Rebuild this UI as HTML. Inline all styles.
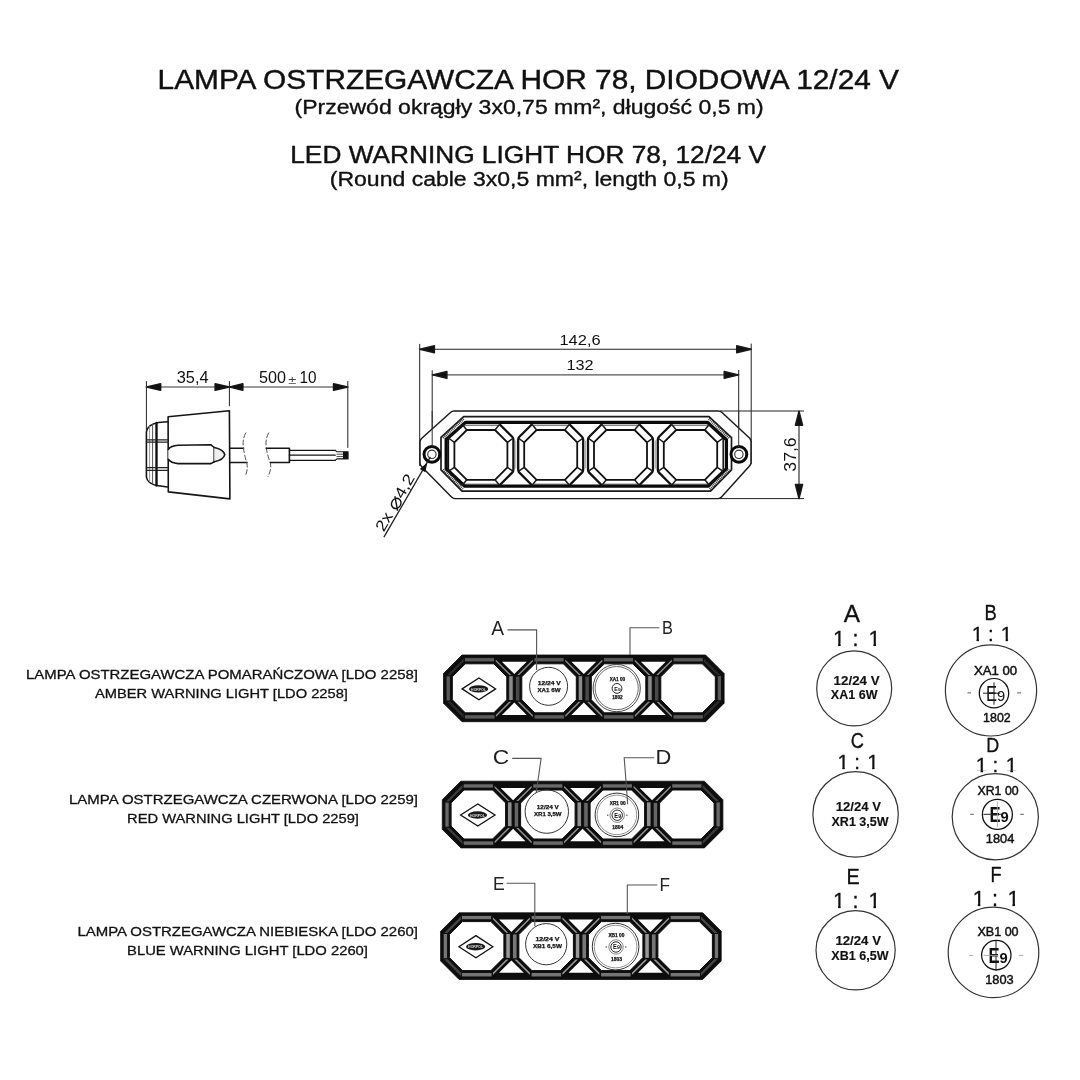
<!DOCTYPE html>
<html lang="pl"><head><meta charset="utf-8"><title>LAMPA OSTRZEGAWCZA HOR 78</title>
<style>html,body{margin:0;padding:0;background:#fff;}body{width:1080px;height:1080px;overflow:hidden;}svg{display:block;will-change:transform;}text{font-family:'Liberation Sans', Arial, sans-serif;}</style>
</head><body>
<svg width="1080" height="1080" viewBox="0 0 1080 1080">
<rect width="1080" height="1080" fill="#fff"/>
<g>
<g id="title">
<text x="157.58" y="89.30" font-size="27.4" font-weight="normal" fill="#111" textLength="741.42" lengthAdjust="spacingAndGlyphs" stroke="#111" stroke-width="0.45" stroke-linejoin="round" >LAMPA OSTRZEGAWCZA HOR 78, DIODOWA 12/24 V</text>
<text x="294.55" y="113.75" font-size="20" font-weight="normal" fill="#111" textLength="469.15" lengthAdjust="spacingAndGlyphs" stroke="#111" stroke-width="0.35" stroke-linejoin="round" >(Przewód okrągły 3x0,75 mm², długość 0,5 m)</text>
<text x="290.28" y="162.50" font-size="24.6" font-weight="normal" fill="#111" textLength="475.72" lengthAdjust="spacingAndGlyphs" stroke="#111" stroke-width="0.45" stroke-linejoin="round" >LED WARNING LIGHT HOR 78, 12/24 V</text>
<text x="329.80" y="186.00" font-size="20" font-weight="normal" fill="#111" textLength="398.90" lengthAdjust="spacingAndGlyphs" stroke="#111" stroke-width="0.35" stroke-linejoin="round" >(Round cable 3x0,5 mm², length 0,5 m)</text>
</g>
<g id="side" fill="none" stroke="#151515" stroke-width="1.6" stroke-linecap="round" stroke-linejoin="round">
<g stroke="#333" stroke-width="1">
<line x1="146.40" y1="381.50" x2="146.40" y2="430.80" stroke="#222" stroke-width="1" />
<line x1="229.40" y1="381.50" x2="229.40" y2="405.80" stroke="#222" stroke-width="1" />
<line x1="347.80" y1="381.50" x2="347.80" y2="447.50" stroke="#222" stroke-width="1" />
<line x1="146.40" y1="387.00" x2="347.80" y2="387.00" stroke="#999" stroke-width="1.8" />
</g>
<polygon points="146.60,387.00 160.60,383.80 160.60,390.20" fill="#111"/>
<polygon points="229.20,387.00 215.20,390.20 215.20,383.80" fill="#111"/>
<polygon points="229.80,387.00 242.80,383.80 242.80,390.20" fill="#111"/>
<polygon points="347.60,387.00 333.60,390.20 333.60,383.80" fill="#111"/>
<path d="M168.1,416.7 L229.4,410.7 L229.9,498.9 L168.3,491.9 Z" fill="#fff"/>
<path d="M167.6,421.8 L158.5,422.5 Q147.2,424.5 146.4,432 L146.4,477 Q147.2,484 158.5,485.7 L167.6,487" />
<path d="M156.5,423 L156.5,485.5" stroke-width="2.4" stroke="#111"/>
<path d="M152.6,424.5 L152.6,484" stroke-width="1" stroke="#555"/>
<path d="M149.6,426.5 L149.6,482" stroke-width="0.9" stroke="#888"/>
<path d="M146.6,439.9 L167.6,439.9 M146.6,442.2 L167.6,442.2 M146.6,467.6 L167.6,467.6 M146.6,470.4 L167.6,470.4" stroke-width="1.25" stroke="#222"/>
<path d="M168.3,449.3 Q171,445.8 178,445.3 L211,444.8 L214.2,447.5 L214.2,461.8 L211,463.6 L178,463.6 Q171,463 168.3,459.3" fill="#fff"/>
<path d="M214.2,447.5 Q223.5,449.5 224.8,454.6 Q223.5,460 214.2,461.8" fill="#eee"/>
<path d="M229.9,448.2 L243.6,448.2 M229.9,462.5 L247,462.5"/>
<path d="M245.7,432.9 Q242.5,439 243.2,446 Q244.2,455 246.8,462.8 Q248.3,470 245,476.7" stroke-dasharray="5 2.5" stroke-width="1" stroke="#555"/>
<path d="M268.6,432.9 Q265.4,439 266.1,446 Q267.1,455 270.4,462.8 Q271.6,470 267.9,476.7" stroke-dasharray="5 2.5" stroke-width="1" stroke="#555"/>
<path d="M266.3,448.2 L289.4,448.2 L289.4,462.5 L270.4,462.5"/>
<path d="M289.4,450.3 L335.3,450.3 M289.4,455.2 L335.3,455.2 M289.4,460.3 L335.3,460.3" stroke-width="1.2"/>
<path d="M335.3,450.3 L337,451.8 L348,451.8 L348,458.9 L337,458.9 L335.3,460.3" stroke-width="1.1"/>
<rect x="343" y="451.8" width="5.2" height="7.1" fill="#111" stroke="none"/>
<path d="M337,454.2 L343,454.2 M337,456.6 L343,456.6" stroke-width="0.8"/>
</g>
<text x="176.76" y="382.90" font-size="16" font-weight="normal" fill="#111" textLength="31.78" lengthAdjust="spacingAndGlyphs"  >35,4</text>
<text x="258.96" y="382.90" font-size="16" font-weight="normal" fill="#111" textLength="26.98" lengthAdjust="spacingAndGlyphs"  >500</text>
<text x="288.27" y="383.60" font-size="11" font-weight="normal" fill="#444" textLength="8.06" lengthAdjust="spacingAndGlyphs"  >±</text>
<text x="299.40" y="382.90" font-size="16" font-weight="normal" fill="#111" textLength="17.04" lengthAdjust="spacingAndGlyphs"  >10</text>
<g id="front" fill="none" stroke="#1a1a1a" stroke-width="1.45" stroke-linejoin="round">
<g stroke="#333" stroke-width="1">
<line x1="419.70" y1="343.90" x2="419.70" y2="466.00" stroke="#222" stroke-width="1" />
<line x1="751.20" y1="343.60" x2="751.20" y2="464.00" stroke="#222" stroke-width="1" />
<line x1="432.20" y1="370.30" x2="432.20" y2="453.60" stroke="#222" stroke-width="1" />
<line x1="738.70" y1="370.00" x2="738.70" y2="453.60" stroke="#222" stroke-width="1" />
<line x1="419.70" y1="349.20" x2="751.20" y2="349.20" stroke="#222" stroke-width="1.1" />
<line x1="432.20" y1="374.90" x2="738.70" y2="374.90" stroke="#555" stroke-width="1.1" />
<line x1="720.00" y1="411.00" x2="804.00" y2="411.00" stroke="#222" stroke-width="1" />
<line x1="720.00" y1="498.60" x2="804.00" y2="498.60" stroke="#222" stroke-width="1" />
<line x1="799.00" y1="411.00" x2="799.00" y2="498.60" stroke="#222" stroke-width="1.1" />
</g>
<polygon points="419.90,349.20 434.40,345.70 434.40,352.70" fill="#111"/>
<polygon points="751.20,349.20 736.70,352.70 736.70,345.70" fill="#111"/>
<polygon points="432.40,374.90 446.90,371.40 446.90,378.40" fill="#111"/>
<polygon points="738.70,374.90 724.20,378.40 724.20,371.40" fill="#111"/>
<polygon points="799.00,411.20 802.60,425.20 795.40,425.20" fill="#111"/>
<polygon points="799.00,498.50 795.40,484.50 802.60,484.50" fill="#111"/>
<path d="M454,411 L718.5,411 Q720.5,411 722,412.5 L749.5,438 Q751,439.5 751,441.5 L751,462.5 Q751,464.5 749.5,466 L721.5,497 Q720,498.6 718,498.6 L455,498.6 Q453,498.6 451.5,497 L421.5,466.5 Q420,465 420,463 L420,442 Q420,440 421.5,438.5 L450.5,412.5 Q452,411 454,411 Z" fill="#fff"/>
<polygon points="463.70,416.60 709.00,416.60 731.50,437.60 731.50,469.80 710.50,491.20 462.00,491.20 441.00,469.80 441.00,437.40" fill="none" stroke="#1a1a1a" stroke-width="1.7" stroke-linejoin="round" />
<path d="M443,437.8 L463.5,418.6 M709,418.6 L729.5,438 M443,469.6 L462.6,489.2 M710,489.2 L729.5,469.6" stroke="#333" stroke-width="3" stroke-dasharray="0.9 0.9"/>
<polygon points="465.60,422.30 707.30,422.30 726.40,439.80 726.40,468.60 708.00,486.20 464.80,486.20 446.20,468.60 446.20,439.40" fill="none" stroke="#0a0a0a" stroke-width="3.3" stroke-linejoin="round" />
<path d="M462.20,424.20 L449.60,436.80 Q448.40,438.00 448.40,439.80 L448.40,469.60 Q448.40,471.40 449.60,472.60 L462.20,485.20" stroke="#111" stroke-width="1.50"/>
<path d="M499.60,424.20 L512.20,436.80 Q513.40,438.00 513.40,439.80 L513.40,469.60 Q513.40,471.40 512.20,472.60 L499.60,485.20" stroke="#111" stroke-width="2.30"/>
<polygon points="466.80,430.00 495.00,430.00 507.40,442.40 507.40,467.40 495.00,479.80 466.80,479.80 454.40,467.40 454.40,442.40" fill="none" stroke="#111" stroke-width="1.8" stroke-linejoin="round" />
<line x1="463.70" y1="425.20" x2="498.10" y2="425.20" stroke="#333" stroke-width="0.9" />
<line x1="463.70" y1="484.20" x2="498.10" y2="484.20" stroke="#333" stroke-width="0.9" />
<line x1="462.20" y1="424.20" x2="466.80" y2="430.00" stroke="#1a1a1a" stroke-width="1.5" />
<line x1="499.60" y1="424.20" x2="495.00" y2="430.00" stroke="#1a1a1a" stroke-width="1.5" />
<line x1="513.40" y1="438.00" x2="507.40" y2="442.40" stroke="#1a1a1a" stroke-width="1.5" />
<line x1="513.40" y1="471.40" x2="507.40" y2="467.40" stroke="#1a1a1a" stroke-width="1.5" />
<line x1="499.60" y1="485.20" x2="495.00" y2="479.80" stroke="#1a1a1a" stroke-width="1.5" />
<line x1="462.20" y1="485.20" x2="466.80" y2="479.80" stroke="#1a1a1a" stroke-width="1.5" />
<line x1="448.40" y1="471.40" x2="454.40" y2="467.40" stroke="#1a1a1a" stroke-width="1.5" />
<line x1="448.40" y1="438.00" x2="454.40" y2="442.40" stroke="#1a1a1a" stroke-width="1.5" />
<path d="M532.00,424.20 L519.40,436.80 Q518.20,438.00 518.20,439.80 L518.20,469.60 Q518.20,471.40 519.40,472.60 L532.00,485.20" stroke="#111" stroke-width="2.30"/>
<path d="M569.40,424.20 L582.00,436.80 Q583.20,438.00 583.20,439.80 L583.20,469.60 Q583.20,471.40 582.00,472.60 L569.40,485.20" stroke="#111" stroke-width="2.30"/>
<polygon points="536.60,430.00 564.80,430.00 577.20,442.40 577.20,467.40 564.80,479.80 536.60,479.80 524.20,467.40 524.20,442.40" fill="none" stroke="#111" stroke-width="1.8" stroke-linejoin="round" />
<line x1="533.50" y1="425.20" x2="567.90" y2="425.20" stroke="#333" stroke-width="0.9" />
<line x1="533.50" y1="484.20" x2="567.90" y2="484.20" stroke="#333" stroke-width="0.9" />
<line x1="532.00" y1="424.20" x2="536.60" y2="430.00" stroke="#1a1a1a" stroke-width="1.5" />
<line x1="569.40" y1="424.20" x2="564.80" y2="430.00" stroke="#1a1a1a" stroke-width="1.5" />
<line x1="583.20" y1="438.00" x2="577.20" y2="442.40" stroke="#1a1a1a" stroke-width="1.5" />
<line x1="583.20" y1="471.40" x2="577.20" y2="467.40" stroke="#1a1a1a" stroke-width="1.5" />
<line x1="569.40" y1="485.20" x2="564.80" y2="479.80" stroke="#1a1a1a" stroke-width="1.5" />
<line x1="532.00" y1="485.20" x2="536.60" y2="479.80" stroke="#1a1a1a" stroke-width="1.5" />
<line x1="518.20" y1="471.40" x2="524.20" y2="467.40" stroke="#1a1a1a" stroke-width="1.5" />
<line x1="518.20" y1="438.00" x2="524.20" y2="442.40" stroke="#1a1a1a" stroke-width="1.5" />
<path d="M601.80,424.20 L589.20,436.80 Q588.00,438.00 588.00,439.80 L588.00,469.60 Q588.00,471.40 589.20,472.60 L601.80,485.20" stroke="#111" stroke-width="2.30"/>
<path d="M639.20,424.20 L651.80,436.80 Q653.00,438.00 653.00,439.80 L653.00,469.60 Q653.00,471.40 651.80,472.60 L639.20,485.20" stroke="#111" stroke-width="2.30"/>
<polygon points="606.40,430.00 634.60,430.00 647.00,442.40 647.00,467.40 634.60,479.80 606.40,479.80 594.00,467.40 594.00,442.40" fill="none" stroke="#111" stroke-width="1.8" stroke-linejoin="round" />
<line x1="603.30" y1="425.20" x2="637.70" y2="425.20" stroke="#333" stroke-width="0.9" />
<line x1="603.30" y1="484.20" x2="637.70" y2="484.20" stroke="#333" stroke-width="0.9" />
<line x1="601.80" y1="424.20" x2="606.40" y2="430.00" stroke="#1a1a1a" stroke-width="1.5" />
<line x1="639.20" y1="424.20" x2="634.60" y2="430.00" stroke="#1a1a1a" stroke-width="1.5" />
<line x1="653.00" y1="438.00" x2="647.00" y2="442.40" stroke="#1a1a1a" stroke-width="1.5" />
<line x1="653.00" y1="471.40" x2="647.00" y2="467.40" stroke="#1a1a1a" stroke-width="1.5" />
<line x1="639.20" y1="485.20" x2="634.60" y2="479.80" stroke="#1a1a1a" stroke-width="1.5" />
<line x1="601.80" y1="485.20" x2="606.40" y2="479.80" stroke="#1a1a1a" stroke-width="1.5" />
<line x1="588.00" y1="471.40" x2="594.00" y2="467.40" stroke="#1a1a1a" stroke-width="1.5" />
<line x1="588.00" y1="438.00" x2="594.00" y2="442.40" stroke="#1a1a1a" stroke-width="1.5" />
<path d="M671.60,424.20 L659.00,436.80 Q657.80,438.00 657.80,439.80 L657.80,469.60 Q657.80,471.40 659.00,472.60 L671.60,485.20" stroke="#111" stroke-width="2.30"/>
<path d="M709.40,424.20 L722.00,436.80 Q723.20,438.00 723.20,439.80 L723.20,469.60 Q723.20,471.40 722.00,472.60 L709.40,485.20" stroke="#111" stroke-width="1.50"/>
<polygon points="676.20,430.00 704.80,430.00 717.20,442.40 717.20,467.40 704.80,479.80 676.20,479.80 663.80,467.40 663.80,442.40" fill="none" stroke="#111" stroke-width="1.8" stroke-linejoin="round" />
<line x1="673.10" y1="425.20" x2="707.90" y2="425.20" stroke="#333" stroke-width="0.9" />
<line x1="673.10" y1="484.20" x2="707.90" y2="484.20" stroke="#333" stroke-width="0.9" />
<line x1="671.60" y1="424.20" x2="676.20" y2="430.00" stroke="#1a1a1a" stroke-width="1.5" />
<line x1="709.40" y1="424.20" x2="704.80" y2="430.00" stroke="#1a1a1a" stroke-width="1.5" />
<line x1="723.20" y1="438.00" x2="717.20" y2="442.40" stroke="#1a1a1a" stroke-width="1.5" />
<line x1="723.20" y1="471.40" x2="717.20" y2="467.40" stroke="#1a1a1a" stroke-width="1.5" />
<line x1="709.40" y1="485.20" x2="704.80" y2="479.80" stroke="#1a1a1a" stroke-width="1.5" />
<line x1="671.60" y1="485.20" x2="676.20" y2="479.80" stroke="#1a1a1a" stroke-width="1.5" />
<line x1="657.80" y1="471.40" x2="663.80" y2="467.40" stroke="#1a1a1a" stroke-width="1.5" />
<line x1="657.80" y1="438.00" x2="663.80" y2="442.40" stroke="#1a1a1a" stroke-width="1.5" />
<line x1="515.80" y1="440.50" x2="515.80" y2="468.50" stroke="#9a9a9a" stroke-width="0.9" />
<line x1="585.60" y1="440.50" x2="585.60" y2="468.50" stroke="#9a9a9a" stroke-width="0.9" />
<line x1="655.40" y1="440.50" x2="655.40" y2="468.50" stroke="#9a9a9a" stroke-width="0.9" />
<circle cx="431.9" cy="454.3" r="7.9" stroke="#0a0a0a" stroke-width="3.0" fill="#fff"/>
<circle cx="431.9" cy="454.3" r="4.2" stroke="#333" stroke-width="1.1"/>
<circle cx="738.9" cy="454.3" r="7.9" stroke="#0a0a0a" stroke-width="3.0" fill="#fff"/>
<circle cx="738.9" cy="454.3" r="4.2" stroke="#333" stroke-width="1.1"/>
<line x1="432.20" y1="411.00" x2="432.20" y2="447.00" stroke="#333" stroke-width="1" />
<line x1="738.70" y1="411.00" x2="738.70" y2="447.00" stroke="#333" stroke-width="1" />
<line x1="383.90" y1="537.20" x2="430.40" y2="456.90" stroke="#222" stroke-width="1.3" />
</g>
<polygon points="427.30,462.50 425.31,472.32 419.77,469.12" fill="#111"/>
<text x="559.45" y="345.00" font-size="15.5" font-weight="normal" fill="#111" textLength="41.17" lengthAdjust="spacingAndGlyphs"  >142,6</text>
<text x="566.45" y="370.00" font-size="15.5" font-weight="normal" fill="#111" textLength="27.17" lengthAdjust="spacingAndGlyphs"  >132</text>
<g transform="translate(795.6,471) rotate(-90)">
<text x="-0.69" y="0.00" font-size="17.2" font-weight="normal" fill="#111" textLength="34.38" lengthAdjust="spacingAndGlyphs"  >37,6</text>
</g>
<g transform="translate(384.0,532.0) rotate(-59.92)">
<text x="-0.62" y="0.00" font-size="15.5" font-weight="normal" fill="#111" textLength="63.24" lengthAdjust="spacingAndGlyphs"  >2x <tspan font-size="20" dy="1">⌀</tspan><tspan dy="-1">4,2</tspan></text>
</g>
<g>
<polygon points="462.00,655.00 705.60,655.00 724.10,673.50 724.10,703.20 705.60,721.70 462.00,721.70 443.50,703.20 443.50,673.50" fill="#0d0d0d" stroke="#0d0d0d" stroke-width="0.8" stroke-linejoin="round" />
<polygon points="501.90,661.70 526.70,661.70 514.30,674.10" fill="#fff" stroke="none" stroke-width="0" stroke-linejoin="round" />
<polygon points="501.90,715.00 526.70,715.00 514.30,702.60" fill="#fff" stroke="none" stroke-width="0" stroke-linejoin="round" />
<polygon points="571.40,661.70 596.20,661.70 583.80,674.10" fill="#fff" stroke="none" stroke-width="0" stroke-linejoin="round" />
<polygon points="571.40,715.00 596.20,715.00 583.80,702.60" fill="#fff" stroke="none" stroke-width="0" stroke-linejoin="round" />
<polygon points="640.90,661.70 665.70,661.70 653.30,674.10" fill="#fff" stroke="none" stroke-width="0" stroke-linejoin="round" />
<polygon points="640.90,715.00 665.70,715.00 653.30,702.60" fill="#fff" stroke="none" stroke-width="0" stroke-linejoin="round" />
<polygon points="464.25,657.60 495.05,657.60 494.92,661.90 464.18,661.90" fill="#5a5a5a" stroke="#0d0d0d" stroke-width="0.9" stroke-linejoin="round" />
<polygon points="495.05,657.60 513.20,675.75 508.70,675.68 494.92,661.90" fill="#8c8c8c" stroke="#0d0d0d" stroke-width="1.7" stroke-linejoin="round" />
<polygon points="513.20,675.75 513.20,700.95 508.70,700.92 508.70,675.68" fill="#8c8c8c" stroke="#0d0d0d" stroke-width="0.9" stroke-linejoin="round" />
<polygon points="513.20,700.95 495.05,719.10 494.92,714.70 508.70,700.92" fill="#8c8c8c" stroke="#0d0d0d" stroke-width="1.7" stroke-linejoin="round" />
<polygon points="495.05,719.10 464.25,719.10 464.18,714.70 494.92,714.70" fill="#5a5a5a" stroke="#0d0d0d" stroke-width="0.9" stroke-linejoin="round" />
<polygon points="464.25,719.10 446.10,700.95 450.40,700.92 464.18,714.70" fill="#2a2a2a" stroke="#0d0d0d" stroke-width="0.9" stroke-linejoin="round" />
<polygon points="446.10,700.95 446.10,675.75 450.40,675.68 450.40,700.92" fill="#5a5a5a" stroke="#0d0d0d" stroke-width="0.9" stroke-linejoin="round" />
<polygon points="446.10,675.75 464.25,657.60 464.18,661.90 450.40,675.68" fill="#2a2a2a" stroke="#0d0d0d" stroke-width="0.9" stroke-linejoin="round" />
<polygon points="465.30,663.80 493.80,663.80 506.80,676.80 506.80,699.80 493.80,712.80 465.30,712.80 452.30,699.80 452.30,676.80" fill="#fff" stroke="#0d0d0d" stroke-width="1.0" stroke-linejoin="round" />
<polygon points="533.55,657.60 564.55,657.60 564.42,661.90 533.68,661.90" fill="#5a5a5a" stroke="#0d0d0d" stroke-width="0.9" stroke-linejoin="round" />
<polygon points="564.55,657.60 582.70,675.75 578.20,675.68 564.42,661.90" fill="#8c8c8c" stroke="#0d0d0d" stroke-width="1.7" stroke-linejoin="round" />
<polygon points="582.70,675.75 582.70,700.95 578.20,700.92 578.20,675.68" fill="#8c8c8c" stroke="#0d0d0d" stroke-width="0.9" stroke-linejoin="round" />
<polygon points="582.70,700.95 564.55,719.10 564.42,714.70 578.20,700.92" fill="#8c8c8c" stroke="#0d0d0d" stroke-width="1.7" stroke-linejoin="round" />
<polygon points="564.55,719.10 533.55,719.10 533.68,714.70 564.42,714.70" fill="#5a5a5a" stroke="#0d0d0d" stroke-width="0.9" stroke-linejoin="round" />
<polygon points="533.55,719.10 515.40,700.95 519.90,700.92 533.68,714.70" fill="#8c8c8c" stroke="#0d0d0d" stroke-width="1.7" stroke-linejoin="round" />
<polygon points="515.40,700.95 515.40,675.75 519.90,675.68 519.90,700.92" fill="#4a4a4a" stroke="#0d0d0d" stroke-width="0.9" stroke-linejoin="round" />
<polygon points="515.40,675.75 533.55,657.60 533.68,661.90 519.90,675.68" fill="#8c8c8c" stroke="#0d0d0d" stroke-width="1.7" stroke-linejoin="round" />
<polygon points="534.80,663.80 563.30,663.80 576.30,676.80 576.30,699.80 563.30,712.80 534.80,712.80 521.80,699.80 521.80,676.80" fill="#fff" stroke="#0d0d0d" stroke-width="1.0" stroke-linejoin="round" />
<polygon points="603.05,657.60 634.05,657.60 633.92,661.90 603.18,661.90" fill="#5a5a5a" stroke="#0d0d0d" stroke-width="0.9" stroke-linejoin="round" />
<polygon points="634.05,657.60 652.20,675.75 647.70,675.68 633.92,661.90" fill="#8c8c8c" stroke="#0d0d0d" stroke-width="1.7" stroke-linejoin="round" />
<polygon points="652.20,675.75 652.20,700.95 647.70,700.92 647.70,675.68" fill="#8c8c8c" stroke="#0d0d0d" stroke-width="0.9" stroke-linejoin="round" />
<polygon points="652.20,700.95 634.05,719.10 633.92,714.70 647.70,700.92" fill="#8c8c8c" stroke="#0d0d0d" stroke-width="1.7" stroke-linejoin="round" />
<polygon points="634.05,719.10 603.05,719.10 603.18,714.70 633.92,714.70" fill="#5a5a5a" stroke="#0d0d0d" stroke-width="0.9" stroke-linejoin="round" />
<polygon points="603.05,719.10 584.90,700.95 589.40,700.92 603.18,714.70" fill="#8c8c8c" stroke="#0d0d0d" stroke-width="1.7" stroke-linejoin="round" />
<polygon points="584.90,700.95 584.90,675.75 589.40,675.68 589.40,700.92" fill="#4a4a4a" stroke="#0d0d0d" stroke-width="0.9" stroke-linejoin="round" />
<polygon points="584.90,675.75 603.05,657.60 603.18,661.90 589.40,675.68" fill="#8c8c8c" stroke="#0d0d0d" stroke-width="1.7" stroke-linejoin="round" />
<polygon points="604.30,663.80 632.80,663.80 645.80,676.80 645.80,699.80 632.80,712.80 604.30,712.80 591.30,699.80 591.30,676.80" fill="#fff" stroke="#0d0d0d" stroke-width="1.0" stroke-linejoin="round" />
<polygon points="672.55,657.60 703.35,657.60 703.42,661.90 672.68,661.90" fill="#5a5a5a" stroke="#0d0d0d" stroke-width="0.9" stroke-linejoin="round" />
<polygon points="703.35,657.60 721.50,675.75 717.20,675.68 703.42,661.90" fill="#2a2a2a" stroke="#0d0d0d" stroke-width="0.9" stroke-linejoin="round" />
<polygon points="721.50,675.75 721.50,700.95 717.20,700.92 717.20,675.68" fill="#5a5a5a" stroke="#0d0d0d" stroke-width="0.9" stroke-linejoin="round" />
<polygon points="721.50,700.95 703.35,719.10 703.42,714.70 717.20,700.92" fill="#2a2a2a" stroke="#0d0d0d" stroke-width="0.9" stroke-linejoin="round" />
<polygon points="703.35,719.10 672.55,719.10 672.68,714.70 703.42,714.70" fill="#5a5a5a" stroke="#0d0d0d" stroke-width="0.9" stroke-linejoin="round" />
<polygon points="672.55,719.10 654.40,700.95 658.90,700.92 672.68,714.70" fill="#8c8c8c" stroke="#0d0d0d" stroke-width="1.7" stroke-linejoin="round" />
<polygon points="654.40,700.95 654.40,675.75 658.90,675.68 658.90,700.92" fill="#4a4a4a" stroke="#0d0d0d" stroke-width="0.9" stroke-linejoin="round" />
<polygon points="654.40,675.75 672.55,657.60 672.68,661.90 658.90,675.68" fill="#8c8c8c" stroke="#0d0d0d" stroke-width="1.7" stroke-linejoin="round" />
<polygon points="673.80,663.80 702.30,663.80 715.30,676.80 715.30,699.80 702.30,712.80 673.80,712.80 660.80,699.80 660.80,676.80" fill="#fff" stroke="#0d0d0d" stroke-width="1.0" stroke-linejoin="round" />
</g>
<polygon points="462.15,688.90 478.90,678.00 495.65,688.90 478.90,699.80" fill="#fff" stroke="#111" stroke-width="1.3" stroke-linejoin="miter"/>
<ellipse cx="478.60" cy="688.90" rx="9.6" ry="3.7" fill="#1a1a1a"/>
<text x="478.60" y="690.50" font-size="4.4" font-weight="bold" fill="#ddd" text-anchor="middle" textLength="15" lengthAdjust="spacingAndGlyphs">HORPOL</text>
<circle cx="548.60" cy="686.30" r="19.00" fill="none" stroke="#333" stroke-width="1.0"/>
<text x="549.30" y="685.30" font-size="5.8" font-weight="bold" fill="#111" stroke="#111" stroke-width="0.25" text-anchor="middle" textLength="23" lengthAdjust="spacingAndGlyphs">12/24 V</text>
<text x="549.00" y="692.20" font-size="5.8" font-weight="bold" fill="#111" stroke="#111" stroke-width="0.25" text-anchor="middle" textLength="23" lengthAdjust="spacingAndGlyphs">XA1 6W</text>
<circle cx="616.70" cy="688.10" r="23.60" fill="none" stroke="#333" stroke-width="0.9"/>
<circle cx="616.70" cy="688.10" r="21.60" fill="none" stroke="#444" stroke-width="0.8"/>
<text x="617.40" y="680.90" font-size="5.0" font-weight="bold" fill="#111" stroke="#111" stroke-width="0.25" text-anchor="middle" textLength="15.5" lengthAdjust="spacingAndGlyphs">XA1 00</text>
<circle cx="617.00" cy="688.40" r="4.90" fill="none" stroke="#111" stroke-width="0.9"/>
<text x="614.25" y="690.63" font-size="6.2" font-weight="bold" fill="#111" textLength="3.62" lengthAdjust="spacingAndGlyphs"  >E</text>
<text x="618.00" y="690.63" font-size="4.34" font-weight="bold" fill="#111" textLength="2.74" lengthAdjust="spacingAndGlyphs"  >9</text>
<text x="617.40" y="699.20" font-size="5.0" font-weight="bold" fill="#111" stroke="#111" stroke-width="0.25" text-anchor="middle" textLength="10.5" lengthAdjust="spacingAndGlyphs">1802</text>
<path d="M507.5,629.9 L536.6,629.9 L536.6,670" fill="none" stroke="#555" stroke-width="1.1"/>
<path d="M659.3,627.8 L630,627.8 L630,655" fill="none" stroke="#555" stroke-width="1.1"/>
<text x="491.20" y="634.50" font-size="19.8" font-weight="normal" fill="#222" textLength="12.80" lengthAdjust="spacingAndGlyphs"  >A</text>
<text x="661.95" y="633.80" font-size="19.0" font-weight="normal" fill="#222" textLength="10.93" lengthAdjust="spacingAndGlyphs"  >B</text>
<g>
<polygon points="460.80,781.20 704.40,781.20 722.90,799.70 722.90,829.40 704.40,847.90 460.80,847.90 442.30,829.40 442.30,799.70" fill="#0d0d0d" stroke="#0d0d0d" stroke-width="0.8" stroke-linejoin="round" />
<polygon points="500.70,787.90 525.50,787.90 513.10,800.30" fill="#fff" stroke="none" stroke-width="0" stroke-linejoin="round" />
<polygon points="500.70,841.20 525.50,841.20 513.10,828.80" fill="#fff" stroke="none" stroke-width="0" stroke-linejoin="round" />
<polygon points="570.20,787.90 595.00,787.90 582.60,800.30" fill="#fff" stroke="none" stroke-width="0" stroke-linejoin="round" />
<polygon points="570.20,841.20 595.00,841.20 582.60,828.80" fill="#fff" stroke="none" stroke-width="0" stroke-linejoin="round" />
<polygon points="639.70,787.90 664.50,787.90 652.10,800.30" fill="#fff" stroke="none" stroke-width="0" stroke-linejoin="round" />
<polygon points="639.70,841.20 664.50,841.20 652.10,828.80" fill="#fff" stroke="none" stroke-width="0" stroke-linejoin="round" />
<polygon points="463.05,783.80 493.85,783.80 493.72,788.10 462.98,788.10" fill="#6a6a6a" stroke="#0d0d0d" stroke-width="0.9" stroke-linejoin="round" />
<polygon points="493.85,783.80 512.00,801.95 507.50,801.88 493.72,788.10" fill="#909090" stroke="#0d0d0d" stroke-width="1.7" stroke-linejoin="round" />
<polygon points="512.00,801.95 512.00,827.15 507.50,827.12 507.50,801.88" fill="#909090" stroke="#0d0d0d" stroke-width="0.9" stroke-linejoin="round" />
<polygon points="512.00,827.15 493.85,845.30 493.72,840.90 507.50,827.12" fill="#909090" stroke="#0d0d0d" stroke-width="1.7" stroke-linejoin="round" />
<polygon points="493.85,845.30 463.05,845.30 462.98,840.90 493.72,840.90" fill="#6a6a6a" stroke="#0d0d0d" stroke-width="0.9" stroke-linejoin="round" />
<polygon points="463.05,845.30 444.90,827.15 449.20,827.12 462.98,840.90" fill="#3a3a3a" stroke="#0d0d0d" stroke-width="0.9" stroke-linejoin="round" />
<polygon points="444.90,827.15 444.90,801.95 449.20,801.88 449.20,827.12" fill="#6a6a6a" stroke="#0d0d0d" stroke-width="0.9" stroke-linejoin="round" />
<polygon points="444.90,801.95 463.05,783.80 462.98,788.10 449.20,801.88" fill="#3a3a3a" stroke="#0d0d0d" stroke-width="0.9" stroke-linejoin="round" />
<polygon points="464.10,790.00 492.60,790.00 505.60,803.00 505.60,826.00 492.60,839.00 464.10,839.00 451.10,826.00 451.10,803.00" fill="#fff" stroke="#0d0d0d" stroke-width="1.0" stroke-linejoin="round" />
<polygon points="532.35,783.80 563.35,783.80 563.22,788.10 532.48,788.10" fill="#6a6a6a" stroke="#0d0d0d" stroke-width="0.9" stroke-linejoin="round" />
<polygon points="563.35,783.80 581.50,801.95 577.00,801.88 563.22,788.10" fill="#909090" stroke="#0d0d0d" stroke-width="1.7" stroke-linejoin="round" />
<polygon points="581.50,801.95 581.50,827.15 577.00,827.12 577.00,801.88" fill="#909090" stroke="#0d0d0d" stroke-width="0.9" stroke-linejoin="round" />
<polygon points="581.50,827.15 563.35,845.30 563.22,840.90 577.00,827.12" fill="#909090" stroke="#0d0d0d" stroke-width="1.7" stroke-linejoin="round" />
<polygon points="563.35,845.30 532.35,845.30 532.48,840.90 563.22,840.90" fill="#6a6a6a" stroke="#0d0d0d" stroke-width="0.9" stroke-linejoin="round" />
<polygon points="532.35,845.30 514.20,827.15 518.70,827.12 532.48,840.90" fill="#909090" stroke="#0d0d0d" stroke-width="1.7" stroke-linejoin="round" />
<polygon points="514.20,827.15 514.20,801.95 518.70,801.88 518.70,827.12" fill="#666" stroke="#0d0d0d" stroke-width="0.9" stroke-linejoin="round" />
<polygon points="514.20,801.95 532.35,783.80 532.48,788.10 518.70,801.88" fill="#909090" stroke="#0d0d0d" stroke-width="1.7" stroke-linejoin="round" />
<polygon points="533.60,790.00 562.10,790.00 575.10,803.00 575.10,826.00 562.10,839.00 533.60,839.00 520.60,826.00 520.60,803.00" fill="#fff" stroke="#0d0d0d" stroke-width="1.0" stroke-linejoin="round" />
<polygon points="601.85,783.80 632.85,783.80 632.72,788.10 601.98,788.10" fill="#6a6a6a" stroke="#0d0d0d" stroke-width="0.9" stroke-linejoin="round" />
<polygon points="632.85,783.80 651.00,801.95 646.50,801.88 632.72,788.10" fill="#909090" stroke="#0d0d0d" stroke-width="1.7" stroke-linejoin="round" />
<polygon points="651.00,801.95 651.00,827.15 646.50,827.12 646.50,801.88" fill="#909090" stroke="#0d0d0d" stroke-width="0.9" stroke-linejoin="round" />
<polygon points="651.00,827.15 632.85,845.30 632.72,840.90 646.50,827.12" fill="#909090" stroke="#0d0d0d" stroke-width="1.7" stroke-linejoin="round" />
<polygon points="632.85,845.30 601.85,845.30 601.98,840.90 632.72,840.90" fill="#6a6a6a" stroke="#0d0d0d" stroke-width="0.9" stroke-linejoin="round" />
<polygon points="601.85,845.30 583.70,827.15 588.20,827.12 601.98,840.90" fill="#909090" stroke="#0d0d0d" stroke-width="1.7" stroke-linejoin="round" />
<polygon points="583.70,827.15 583.70,801.95 588.20,801.88 588.20,827.12" fill="#666" stroke="#0d0d0d" stroke-width="0.9" stroke-linejoin="round" />
<polygon points="583.70,801.95 601.85,783.80 601.98,788.10 588.20,801.88" fill="#909090" stroke="#0d0d0d" stroke-width="1.7" stroke-linejoin="round" />
<polygon points="603.10,790.00 631.60,790.00 644.60,803.00 644.60,826.00 631.60,839.00 603.10,839.00 590.10,826.00 590.10,803.00" fill="#fff" stroke="#0d0d0d" stroke-width="1.0" stroke-linejoin="round" />
<polygon points="671.35,783.80 702.15,783.80 702.22,788.10 671.48,788.10" fill="#6a6a6a" stroke="#0d0d0d" stroke-width="0.9" stroke-linejoin="round" />
<polygon points="702.15,783.80 720.30,801.95 716.00,801.88 702.22,788.10" fill="#3a3a3a" stroke="#0d0d0d" stroke-width="0.9" stroke-linejoin="round" />
<polygon points="720.30,801.95 720.30,827.15 716.00,827.12 716.00,801.88" fill="#6a6a6a" stroke="#0d0d0d" stroke-width="0.9" stroke-linejoin="round" />
<polygon points="720.30,827.15 702.15,845.30 702.22,840.90 716.00,827.12" fill="#3a3a3a" stroke="#0d0d0d" stroke-width="0.9" stroke-linejoin="round" />
<polygon points="702.15,845.30 671.35,845.30 671.48,840.90 702.22,840.90" fill="#6a6a6a" stroke="#0d0d0d" stroke-width="0.9" stroke-linejoin="round" />
<polygon points="671.35,845.30 653.20,827.15 657.70,827.12 671.48,840.90" fill="#909090" stroke="#0d0d0d" stroke-width="1.7" stroke-linejoin="round" />
<polygon points="653.20,827.15 653.20,801.95 657.70,801.88 657.70,827.12" fill="#666" stroke="#0d0d0d" stroke-width="0.9" stroke-linejoin="round" />
<polygon points="653.20,801.95 671.35,783.80 671.48,788.10 657.70,801.88" fill="#909090" stroke="#0d0d0d" stroke-width="1.7" stroke-linejoin="round" />
<polygon points="672.60,790.00 701.10,790.00 714.10,803.00 714.10,826.00 701.10,839.00 672.60,839.00 659.60,826.00 659.60,803.00" fill="#fff" stroke="#0d0d0d" stroke-width="1.0" stroke-linejoin="round" />
</g>
<polygon points="460.60,815.00 477.80,803.90 495.00,815.00 477.80,826.10" fill="#fff" stroke="#111" stroke-width="1.3" stroke-linejoin="miter"/>
<ellipse cx="477.50" cy="815.00" rx="9.6" ry="3.7" fill="#1a1a1a"/>
<text x="477.50" y="816.60" font-size="4.4" font-weight="bold" fill="#ddd" text-anchor="middle" textLength="15" lengthAdjust="spacingAndGlyphs">HORPOL</text>
<circle cx="546.80" cy="811.60" r="21.70" fill="none" stroke="#333" stroke-width="1.0"/>
<text x="547.80" y="808.60" font-size="5.8" font-weight="bold" fill="#111" stroke="#111" stroke-width="0.25" text-anchor="middle" textLength="22" lengthAdjust="spacingAndGlyphs">12/24 V</text>
<text x="547.80" y="815.80" font-size="5.8" font-weight="bold" fill="#111" stroke="#111" stroke-width="0.25" text-anchor="middle" textLength="27.5" lengthAdjust="spacingAndGlyphs">XR1 3,5W</text>
<circle cx="616.90" cy="814.90" r="21.80" fill="none" stroke="#333" stroke-width="1.0"/>
<circle cx="616.90" cy="814.90" r="19.80" fill="none" stroke="#666" stroke-width="0.7"/>
<text x="617.70" y="805.20" font-size="5.0" font-weight="bold" fill="#111" stroke="#111" stroke-width="0.25" text-anchor="middle" textLength="16" lengthAdjust="spacingAndGlyphs">XR1 00</text>
<circle cx="617.20" cy="815.20" r="5.20" fill="none" stroke="#111" stroke-width="0.9"/>
<text x="614.30" y="817.50" font-size="6.4" font-weight="bold" fill="#111" textLength="3.82" lengthAdjust="spacingAndGlyphs"  >E</text>
<text x="618.27" y="817.50" font-size="4.4799999999999995" font-weight="bold" fill="#111" textLength="2.90" lengthAdjust="spacingAndGlyphs"  >9</text>
<circle cx="617.20" cy="815.20" r="7.20" fill="none" stroke="#555" stroke-width="0.7"/>
<text x="617.70" y="829.00" font-size="5.0" font-weight="bold" fill="#111" stroke="#111" stroke-width="0.25" text-anchor="middle" textLength="11" lengthAdjust="spacingAndGlyphs">1804</text>
<path d="M607,815.2 L608.4,815.2 M626.2,815.2 L627.6,815.2" stroke="#333" stroke-width="1"/>
<path d="M512.2,758.4 L541.1,758.4 L536.2,793" fill="none" stroke="#555" stroke-width="1.1"/>
<path d="M654.2,757.8 L624.2,757.8 L627.7,804.3" fill="none" stroke="#555" stroke-width="1.1"/>
<text x="492.88" y="764.30" font-size="20.5" font-weight="normal" fill="#222" textLength="16.45" lengthAdjust="spacingAndGlyphs"  >C</text>
<text x="655.46" y="763.60" font-size="19.3" font-weight="normal" fill="#222" textLength="15.82" lengthAdjust="spacingAndGlyphs"  >D</text>
<g>
<polygon points="459.10,912.80 702.70,912.80 721.20,931.30 721.20,961.00 702.70,979.50 459.10,979.50 440.60,961.00 440.60,931.30" fill="#0d0d0d" stroke="#0d0d0d" stroke-width="0.8" stroke-linejoin="round" />
<polygon points="499.00,919.50 523.80,919.50 511.40,931.90" fill="#fff" stroke="none" stroke-width="0" stroke-linejoin="round" />
<polygon points="499.00,972.80 523.80,972.80 511.40,960.40" fill="#fff" stroke="none" stroke-width="0" stroke-linejoin="round" />
<polygon points="568.50,919.50 593.30,919.50 580.90,931.90" fill="#fff" stroke="none" stroke-width="0" stroke-linejoin="round" />
<polygon points="568.50,972.80 593.30,972.80 580.90,960.40" fill="#fff" stroke="none" stroke-width="0" stroke-linejoin="round" />
<polygon points="638.00,919.50 662.80,919.50 650.40,931.90" fill="#fff" stroke="none" stroke-width="0" stroke-linejoin="round" />
<polygon points="638.00,972.80 662.80,972.80 650.40,960.40" fill="#fff" stroke="none" stroke-width="0" stroke-linejoin="round" />
<polygon points="461.35,915.40 492.15,915.40 492.02,919.70 461.28,919.70" fill="#757575" stroke="#0d0d0d" stroke-width="0.9" stroke-linejoin="round" />
<polygon points="492.15,915.40 510.30,933.55 505.80,933.48 492.02,919.70" fill="#999" stroke="#0d0d0d" stroke-width="1.7" stroke-linejoin="round" />
<polygon points="510.30,933.55 510.30,958.75 505.80,958.72 505.80,933.48" fill="#999" stroke="#0d0d0d" stroke-width="0.9" stroke-linejoin="round" />
<polygon points="510.30,958.75 492.15,976.90 492.02,972.50 505.80,958.72" fill="#999" stroke="#0d0d0d" stroke-width="1.7" stroke-linejoin="round" />
<polygon points="492.15,976.90 461.35,976.90 461.28,972.50 492.02,972.50" fill="#757575" stroke="#0d0d0d" stroke-width="0.9" stroke-linejoin="round" />
<polygon points="461.35,976.90 443.20,958.75 447.50,958.72 461.28,972.50" fill="#444" stroke="#0d0d0d" stroke-width="0.9" stroke-linejoin="round" />
<polygon points="443.20,958.75 443.20,933.55 447.50,933.48 447.50,958.72" fill="#757575" stroke="#0d0d0d" stroke-width="0.9" stroke-linejoin="round" />
<polygon points="443.20,933.55 461.35,915.40 461.28,919.70 447.50,933.48" fill="#444" stroke="#0d0d0d" stroke-width="0.9" stroke-linejoin="round" />
<polygon points="462.40,921.60 490.90,921.60 503.90,934.60 503.90,957.60 490.90,970.60 462.40,970.60 449.40,957.60 449.40,934.60" fill="#fff" stroke="#0d0d0d" stroke-width="1.0" stroke-linejoin="round" />
<polygon points="530.65,915.40 561.65,915.40 561.52,919.70 530.78,919.70" fill="#757575" stroke="#0d0d0d" stroke-width="0.9" stroke-linejoin="round" />
<polygon points="561.65,915.40 579.80,933.55 575.30,933.48 561.52,919.70" fill="#999" stroke="#0d0d0d" stroke-width="1.7" stroke-linejoin="round" />
<polygon points="579.80,933.55 579.80,958.75 575.30,958.72 575.30,933.48" fill="#999" stroke="#0d0d0d" stroke-width="0.9" stroke-linejoin="round" />
<polygon points="579.80,958.75 561.65,976.90 561.52,972.50 575.30,958.72" fill="#999" stroke="#0d0d0d" stroke-width="1.7" stroke-linejoin="round" />
<polygon points="561.65,976.90 530.65,976.90 530.78,972.50 561.52,972.50" fill="#757575" stroke="#0d0d0d" stroke-width="0.9" stroke-linejoin="round" />
<polygon points="530.65,976.90 512.50,958.75 517.00,958.72 530.78,972.50" fill="#999" stroke="#0d0d0d" stroke-width="1.7" stroke-linejoin="round" />
<polygon points="512.50,958.75 512.50,933.55 517.00,933.48 517.00,958.72" fill="#777" stroke="#0d0d0d" stroke-width="0.9" stroke-linejoin="round" />
<polygon points="512.50,933.55 530.65,915.40 530.78,919.70 517.00,933.48" fill="#999" stroke="#0d0d0d" stroke-width="1.7" stroke-linejoin="round" />
<polygon points="531.90,921.60 560.40,921.60 573.40,934.60 573.40,957.60 560.40,970.60 531.90,970.60 518.90,957.60 518.90,934.60" fill="#fff" stroke="#0d0d0d" stroke-width="1.0" stroke-linejoin="round" />
<polygon points="600.15,915.40 631.15,915.40 631.02,919.70 600.28,919.70" fill="#757575" stroke="#0d0d0d" stroke-width="0.9" stroke-linejoin="round" />
<polygon points="631.15,915.40 649.30,933.55 644.80,933.48 631.02,919.70" fill="#999" stroke="#0d0d0d" stroke-width="1.7" stroke-linejoin="round" />
<polygon points="649.30,933.55 649.30,958.75 644.80,958.72 644.80,933.48" fill="#999" stroke="#0d0d0d" stroke-width="0.9" stroke-linejoin="round" />
<polygon points="649.30,958.75 631.15,976.90 631.02,972.50 644.80,958.72" fill="#999" stroke="#0d0d0d" stroke-width="1.7" stroke-linejoin="round" />
<polygon points="631.15,976.90 600.15,976.90 600.28,972.50 631.02,972.50" fill="#757575" stroke="#0d0d0d" stroke-width="0.9" stroke-linejoin="round" />
<polygon points="600.15,976.90 582.00,958.75 586.50,958.72 600.28,972.50" fill="#999" stroke="#0d0d0d" stroke-width="1.7" stroke-linejoin="round" />
<polygon points="582.00,958.75 582.00,933.55 586.50,933.48 586.50,958.72" fill="#777" stroke="#0d0d0d" stroke-width="0.9" stroke-linejoin="round" />
<polygon points="582.00,933.55 600.15,915.40 600.28,919.70 586.50,933.48" fill="#999" stroke="#0d0d0d" stroke-width="1.7" stroke-linejoin="round" />
<polygon points="601.40,921.60 629.90,921.60 642.90,934.60 642.90,957.60 629.90,970.60 601.40,970.60 588.40,957.60 588.40,934.60" fill="#fff" stroke="#0d0d0d" stroke-width="1.0" stroke-linejoin="round" />
<polygon points="669.65,915.40 700.45,915.40 700.52,919.70 669.78,919.70" fill="#757575" stroke="#0d0d0d" stroke-width="0.9" stroke-linejoin="round" />
<polygon points="700.45,915.40 718.60,933.55 714.30,933.48 700.52,919.70" fill="#444" stroke="#0d0d0d" stroke-width="0.9" stroke-linejoin="round" />
<polygon points="718.60,933.55 718.60,958.75 714.30,958.72 714.30,933.48" fill="#757575" stroke="#0d0d0d" stroke-width="0.9" stroke-linejoin="round" />
<polygon points="718.60,958.75 700.45,976.90 700.52,972.50 714.30,958.72" fill="#444" stroke="#0d0d0d" stroke-width="0.9" stroke-linejoin="round" />
<polygon points="700.45,976.90 669.65,976.90 669.78,972.50 700.52,972.50" fill="#757575" stroke="#0d0d0d" stroke-width="0.9" stroke-linejoin="round" />
<polygon points="669.65,976.90 651.50,958.75 656.00,958.72 669.78,972.50" fill="#999" stroke="#0d0d0d" stroke-width="1.7" stroke-linejoin="round" />
<polygon points="651.50,958.75 651.50,933.55 656.00,933.48 656.00,958.72" fill="#777" stroke="#0d0d0d" stroke-width="0.9" stroke-linejoin="round" />
<polygon points="651.50,933.55 669.65,915.40 669.78,919.70 656.00,933.48" fill="#999" stroke="#0d0d0d" stroke-width="1.7" stroke-linejoin="round" />
<polygon points="670.90,921.60 699.40,921.60 712.40,934.60 712.40,957.60 699.40,970.60 670.90,970.60 657.90,957.60 657.90,934.60" fill="#fff" stroke="#0d0d0d" stroke-width="1.0" stroke-linejoin="round" />
</g>
<polygon points="458.95,946.70 475.90,935.60 492.85,946.70 475.90,957.80" fill="#fff" stroke="#111" stroke-width="1.3" stroke-linejoin="miter"/>
<ellipse cx="475.60" cy="946.70" rx="9.6" ry="3.7" fill="#1a1a1a"/>
<text x="475.60" y="948.30" font-size="4.4" font-weight="bold" fill="#ddd" text-anchor="middle" textLength="15" lengthAdjust="spacingAndGlyphs">HORPOL</text>
<circle cx="546.20" cy="944.20" r="20.60" fill="none" stroke="#333" stroke-width="1.0"/>
<text x="547.40" y="941.20" font-size="5.8" font-weight="bold" fill="#111" stroke="#111" stroke-width="0.25" text-anchor="middle" textLength="24" lengthAdjust="spacingAndGlyphs">12/24 V</text>
<text x="547.40" y="948.40" font-size="5.8" font-weight="bold" fill="#111" stroke="#111" stroke-width="0.25" text-anchor="middle" textLength="29" lengthAdjust="spacingAndGlyphs">XB1 6,5W</text>
<circle cx="615.60" cy="946.60" r="23.30" fill="none" stroke="#333" stroke-width="1.0"/>
<circle cx="615.60" cy="946.60" r="21.30" fill="none" stroke="#666" stroke-width="0.7"/>
<text x="616.40" y="937.00" font-size="5.0" font-weight="bold" fill="#111" stroke="#111" stroke-width="0.25" text-anchor="middle" textLength="16" lengthAdjust="spacingAndGlyphs">XB1 00</text>
<circle cx="616.00" cy="947.00" r="5.20" fill="none" stroke="#111" stroke-width="0.9"/>
<text x="613.10" y="949.30" font-size="6.4" font-weight="bold" fill="#111" textLength="3.82" lengthAdjust="spacingAndGlyphs"  >E</text>
<text x="617.07" y="949.30" font-size="4.4799999999999995" font-weight="bold" fill="#111" textLength="2.90" lengthAdjust="spacingAndGlyphs"  >9</text>
<circle cx="616.00" cy="947.00" r="7.20" fill="none" stroke="#555" stroke-width="0.7"/>
<text x="616.40" y="960.80" font-size="5.0" font-weight="bold" fill="#111" stroke="#111" stroke-width="0.25" text-anchor="middle" textLength="11" lengthAdjust="spacingAndGlyphs">1803</text>
<path d="M605.6,947 L607,947 M625,947 L626.4,947" stroke="#333" stroke-width="1"/>
<path d="M506.5,883.3 L534.8,883.3 L534.8,926.1" fill="none" stroke="#555" stroke-width="1.1"/>
<path d="M657.2,885 L627.3,885 L627.3,913.9" fill="none" stroke="#555" stroke-width="1.1"/>
<text x="492.96" y="889.90" font-size="19.2" font-weight="normal" fill="#222" textLength="11.80" lengthAdjust="spacingAndGlyphs"  >E</text>
<text x="659.46" y="890.50" font-size="19.2" font-weight="normal" fill="#222" textLength="10.51" lengthAdjust="spacingAndGlyphs"  >F</text>
<g id="labels">
<text x="26.05" y="679.00" font-size="13.6" font-weight="normal" fill="#111" textLength="391.90" lengthAdjust="spacingAndGlyphs" stroke="#111" stroke-width="0.3" stroke-linejoin="round" >LAMPA OSTRZEGAWCZA POMARAŃCZOWA [LDO 2258]</text>
<text x="95.00" y="698.00" font-size="13.6" font-weight="normal" fill="#111" textLength="252.95" lengthAdjust="spacingAndGlyphs" stroke="#111" stroke-width="0.3" stroke-linejoin="round" >AMBER WARNING LIGHT [LDO 2258]</text>
<text x="69.05" y="804.00" font-size="13.6" font-weight="normal" fill="#111" textLength="348.90" lengthAdjust="spacingAndGlyphs" stroke="#111" stroke-width="0.3" stroke-linejoin="round" >LAMPA OSTRZEGAWCZA CZERWONA [LDO 2259]</text>
<text x="127.05" y="823.00" font-size="13.6" font-weight="normal" fill="#111" textLength="231.90" lengthAdjust="spacingAndGlyphs" stroke="#111" stroke-width="0.3" stroke-linejoin="round" >RED WARNING LIGHT [LDO 2259]</text>
<text x="77.45" y="935.60" font-size="13.6" font-weight="normal" fill="#111" textLength="340.50" lengthAdjust="spacingAndGlyphs" stroke="#111" stroke-width="0.3" stroke-linejoin="round" >LAMPA OSTRZEGAWCZA NIEBIESKA [LDO 2260]</text>
<text x="127.05" y="954.60" font-size="13.6" font-weight="normal" fill="#111" textLength="240.90" lengthAdjust="spacingAndGlyphs" stroke="#111" stroke-width="0.3" stroke-linejoin="round" >BLUE WARNING LIGHT [LDO 2260]</text>
</g>
<text x="843.75" y="622.10" font-size="23.3" font-weight="normal" fill="#111" textLength="16.25" lengthAdjust="spacingAndGlyphs" stroke="#111" stroke-width="0.3" stroke-linejoin="round" >A</text>
<clipPath id="c1"><polygon points="830.91,628.50 848.11,628.50 848.11,643.38 840.63,643.38 840.63,646.35 838.07,646.35 838.07,643.38 830.91,643.38"/></clipPath>
<text x="833.06" y="645.70" font-size="21.5" fill="#111" stroke="#111" stroke-width="0.3" clip-path="url(#c1)">1</text>
<clipPath id="c2"><polygon points="866.32,628.50 883.51,628.50 883.51,643.38 876.03,643.38 876.03,646.35 873.47,646.35 873.47,643.38 866.32,643.38"/></clipPath>
<text x="868.47" y="645.70" font-size="21.5" fill="#111" stroke="#111" stroke-width="0.3" clip-path="url(#c2)">1</text>
<text x="855.60" y="645.70" font-size="21.5" fill="#111" text-anchor="middle" stroke="#111" stroke-width="0.3">:</text>
<circle cx="854.20" cy="688.40" r="37.50" fill="none" stroke="#333" stroke-width="1.2"/>
<text x="833.62" y="684.60" font-size="12.6" font-weight="bold" fill="#111" textLength="45.96" lengthAdjust="spacingAndGlyphs" stroke="#111" stroke-width="0.15" stroke-linejoin="round" >12/24 V</text>
<text x="830.87" y="699.20" font-size="12.6" font-weight="bold" fill="#111" textLength="46.61" lengthAdjust="spacingAndGlyphs" stroke="#111" stroke-width="0.15" stroke-linejoin="round" >XA1 6W</text>
<text x="984.40" y="620.00" font-size="21.4" font-weight="normal" fill="#111" textLength="12.30" lengthAdjust="spacingAndGlyphs" stroke="#111" stroke-width="0.3" stroke-linejoin="round" >B</text>
<clipPath id="c3"><polygon points="969.71,624.40 986.11,624.40 986.11,638.59 978.97,638.59 978.97,641.41 976.53,641.41 976.53,638.59 969.71,638.59"/></clipPath>
<text x="971.75" y="640.80" font-size="20.5" fill="#111" stroke="#111" stroke-width="0.3" clip-path="url(#c3)">1</text>
<clipPath id="c4"><polygon points="998.81,624.40 1015.21,624.40 1015.21,638.59 1008.07,638.59 1008.07,641.41 1005.63,641.41 1005.63,638.59 998.81,638.59"/></clipPath>
<text x="1000.86" y="640.80" font-size="20.5" fill="#111" stroke="#111" stroke-width="0.3" clip-path="url(#c4)">1</text>
<text x="990.85" y="640.80" font-size="20.5" fill="#111" text-anchor="middle" stroke="#111" stroke-width="0.3">:</text>
<circle cx="991.00" cy="690.40" r="45.60" fill="none" stroke="#333" stroke-width="1.2"/>
<text x="974.02" y="674.90" font-size="12.6" font-weight="normal" fill="#111" textLength="43.16" lengthAdjust="spacingAndGlyphs" stroke="#111" stroke-width="0.45" stroke-linejoin="round" >XA1 00</text>
<circle cx="994.00" cy="693.20" r="14.70" fill="none" stroke="#111" stroke-width="1.2495"/>
<text x="986.09" y="700.90" font-size="21.4" font-weight="normal" fill="#111" textLength="11.08" lengthAdjust="spacingAndGlyphs"  >E</text>
<text x="997.12" y="700.80" font-size="14.6" font-weight="normal" fill="#111" textLength="8.21" lengthAdjust="spacingAndGlyphs"  >9</text>
<path d="M983,693.2 L1000.2,693.2 M994,682.4 L994,704.7" stroke="#222" stroke-width="1" fill="none"/>
<path d="M967.5,692.9 L971,692.9 M1017.2,692.9 L1021,692.9" stroke="#555" stroke-width="1" fill="none"/>
<text x="983.12" y="722.10" font-size="12.6" font-weight="normal" fill="#111" textLength="27.56" lengthAdjust="spacingAndGlyphs" stroke="#111" stroke-width="0.45" stroke-linejoin="round" >1802</text>
<text x="850.70" y="748.00" font-size="21.3" font-weight="normal" fill="#111" textLength="13.20" lengthAdjust="spacingAndGlyphs" stroke="#111" stroke-width="0.3" stroke-linejoin="round" >C</text>
<clipPath id="c5"><polygon points="835.50,752.50 851.90,752.50 851.90,766.69 844.77,766.69 844.77,769.51 842.33,769.51 842.33,766.69 835.50,766.69"/></clipPath>
<text x="837.55" y="768.90" font-size="20.5" fill="#111" stroke="#111" stroke-width="0.3" clip-path="url(#c5)">1</text>
<clipPath id="c6"><polygon points="865.31,752.50 881.71,752.50 881.71,766.69 874.57,766.69 874.57,769.51 872.13,769.51 872.13,766.69 865.31,766.69"/></clipPath>
<text x="867.36" y="768.90" font-size="20.5" fill="#111" stroke="#111" stroke-width="0.3" clip-path="url(#c6)">1</text>
<text x="857.00" y="768.90" font-size="20.5" fill="#111" text-anchor="middle" stroke="#111" stroke-width="0.3">:</text>
<circle cx="855.60" cy="814.40" r="42.70" fill="none" stroke="#333" stroke-width="1.2"/>
<text x="835.72" y="810.60" font-size="12.6" font-weight="bold" fill="#111" textLength="45.26" lengthAdjust="spacingAndGlyphs" stroke="#111" stroke-width="0.15" stroke-linejoin="round" >12/24 V</text>
<text x="831.52" y="825.80" font-size="12.6" font-weight="bold" fill="#111" textLength="57.06" lengthAdjust="spacingAndGlyphs" stroke="#111" stroke-width="0.15" stroke-linejoin="round" >XR1 3,5W</text>
<text x="986.25" y="751.50" font-size="20.4" font-weight="normal" fill="#111" textLength="12.95" lengthAdjust="spacingAndGlyphs" stroke="#111" stroke-width="0.3" stroke-linejoin="round" >D</text>
<clipPath id="c7"><polygon points="973.80,756.00 990.20,756.00 990.20,770.19 983.07,770.19 983.07,773.01 980.63,773.01 980.63,770.19 973.80,770.19"/></clipPath>
<text x="975.85" y="772.40" font-size="20.5" fill="#111" stroke="#111" stroke-width="0.3" clip-path="url(#c7)">1</text>
<clipPath id="c8"><polygon points="1003.61,756.00 1020.00,756.00 1020.00,770.19 1012.87,770.19 1012.87,773.01 1010.43,773.01 1010.43,770.19 1003.61,770.19"/></clipPath>
<text x="1005.65" y="772.40" font-size="20.5" fill="#111" stroke="#111" stroke-width="0.3" clip-path="url(#c8)">1</text>
<text x="995.30" y="772.40" font-size="20.5" fill="#111" text-anchor="middle" stroke="#111" stroke-width="0.3">:</text>
<circle cx="995.30" cy="816.80" r="43.10" fill="none" stroke="#333" stroke-width="1.2"/>
<text x="977.52" y="795.30" font-size="12.6" font-weight="normal" fill="#111" textLength="41.06" lengthAdjust="spacingAndGlyphs" stroke="#111" stroke-width="0.45" stroke-linejoin="round" >XR1 00</text>
<circle cx="997.40" cy="814.40" r="15.00" fill="none" stroke="#111" stroke-width="1.2750000000000001"/>
<text x="989.49" y="822.10" font-size="21.4" font-weight="bold" fill="#111" textLength="11.08" lengthAdjust="spacingAndGlyphs"  >E</text>
<text x="1000.52" y="822.00" font-size="14.6" font-weight="bold" fill="#111" textLength="8.21" lengthAdjust="spacingAndGlyphs"  >9</text>
<path d="M983.5,814.3 L1002.2,814.3" stroke="#222" stroke-width="1" fill="none"/>
<path d="M997.4,801.5 L997.4,827.2" stroke="#aaa" stroke-width="0.9" fill="none"/>
<path d="M970.3,814.3 L973.75,814.3 M1020.3,814.3 L1023.75,814.3" stroke="#555" stroke-width="1" fill="none"/>
<text x="985.87" y="843.20" font-size="12.6" font-weight="normal" fill="#111" textLength="28.51" lengthAdjust="spacingAndGlyphs" stroke="#111" stroke-width="0.45" stroke-linejoin="round" >1804</text>
<text x="846.50" y="883.60" font-size="22.3" font-weight="normal" fill="#111" textLength="13.20" lengthAdjust="spacingAndGlyphs" stroke="#111" stroke-width="0.3" stroke-linejoin="round" >E</text>
<clipPath id="c9"><polygon points="830.91,890.70 848.11,890.70 848.11,905.58 840.63,905.58 840.63,908.54 838.07,908.54 838.07,905.58 830.91,905.58"/></clipPath>
<text x="833.06" y="907.90" font-size="21.5" fill="#111" stroke="#111" stroke-width="0.3" clip-path="url(#c9)">1</text>
<clipPath id="c10"><polygon points="866.32,890.70 883.51,890.70 883.51,905.58 876.03,905.58 876.03,908.54 873.47,908.54 873.47,905.58 866.32,905.58"/></clipPath>
<text x="868.47" y="907.90" font-size="21.5" fill="#111" stroke="#111" stroke-width="0.3" clip-path="url(#c10)">1</text>
<text x="855.60" y="907.90" font-size="21.5" fill="#111" text-anchor="middle" stroke="#111" stroke-width="0.3">:</text>
<circle cx="855.60" cy="950.30" r="39.60" fill="none" stroke="#333" stroke-width="1.2"/>
<text x="835.42" y="944.70" font-size="12.6" font-weight="bold" fill="#111" textLength="45.56" lengthAdjust="spacingAndGlyphs" stroke="#111" stroke-width="0.15" stroke-linejoin="round" >12/24 V</text>
<text x="831.32" y="960.00" font-size="12.6" font-weight="bold" fill="#111" textLength="57.26" lengthAdjust="spacingAndGlyphs" stroke="#111" stroke-width="0.15" stroke-linejoin="round" >XB1 6,5W</text>
<text x="990.40" y="881.50" font-size="22.2" font-weight="normal" fill="#111" textLength="11.10" lengthAdjust="spacingAndGlyphs" stroke="#111" stroke-width="0.3" stroke-linejoin="round" >F</text>
<clipPath id="c11"><polygon points="970.62,888.60 987.81,888.60 987.81,903.48 980.33,903.48 980.33,906.44 977.77,906.44 977.77,903.48 970.62,903.48"/></clipPath>
<text x="972.76" y="905.80" font-size="21.5" fill="#111" stroke="#111" stroke-width="0.3" clip-path="url(#c11)">1</text>
<clipPath id="c12"><polygon points="1005.32,888.60 1022.51,888.60 1022.51,903.48 1015.03,903.48 1015.03,906.44 1012.47,906.44 1012.47,903.48 1005.32,903.48"/></clipPath>
<text x="1007.47" y="905.80" font-size="21.5" fill="#111" stroke="#111" stroke-width="0.3" clip-path="url(#c12)">1</text>
<text x="994.95" y="905.80" font-size="21.5" fill="#111" text-anchor="middle" stroke="#111" stroke-width="0.3">:</text>
<circle cx="993.50" cy="952.40" r="45.30" fill="none" stroke="#333" stroke-width="1.2"/>
<text x="977.52" y="936.40" font-size="12.6" font-weight="normal" fill="#111" textLength="41.06" lengthAdjust="spacingAndGlyphs" stroke="#111" stroke-width="0.45" stroke-linejoin="round" >XB1 00</text>
<circle cx="996.30" cy="955.10" r="14.70" fill="none" stroke="#111" stroke-width="1.2495"/>
<text x="988.39" y="962.80" font-size="21.4" font-weight="bold" fill="#111" textLength="11.08" lengthAdjust="spacingAndGlyphs"  >E</text>
<text x="999.42" y="962.70" font-size="14.6" font-weight="bold" fill="#111" textLength="8.21" lengthAdjust="spacingAndGlyphs"  >9</text>
<path d="M996,940.6 L996,971.1" stroke="#222" stroke-width="1" fill="none"/>
<path d="M983.5,955.4 L998,955.4" stroke="#aaa" stroke-width="0.9" fill="none"/>
<path d="M968.9,955.4 L973.3,955.4 M1018.9,955.4 L1023.3,955.4" stroke="#aaa" stroke-width="1" fill="none"/>
<text x="985.22" y="983.60" font-size="12.6" font-weight="normal" fill="#111" textLength="28.46" lengthAdjust="spacingAndGlyphs" stroke="#111" stroke-width="0.45" stroke-linejoin="round" >1803</text>
</g>
</svg></body></html>
